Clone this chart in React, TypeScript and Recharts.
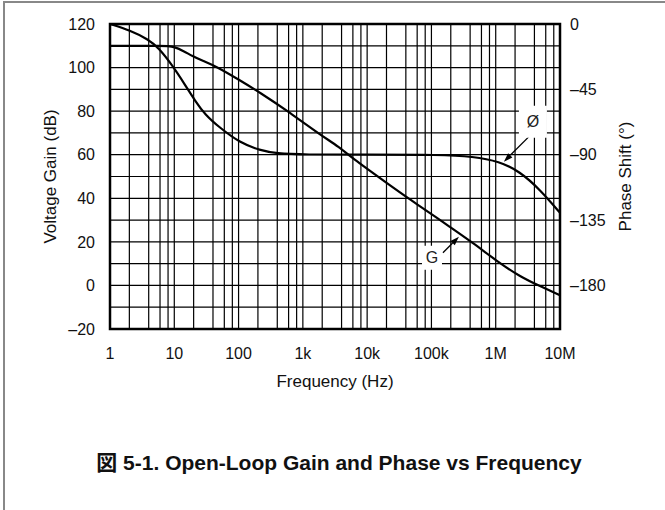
import {
  ComposedChart,
  Line,
  XAxis,
  YAxis,
  ReferenceLine,
  ReferenceArea,
  ReferenceDot,
} from "recharts";

const freqTicks = [1, 10, 100, 1e3, 1e4, 1e5, 1e6, 1e7];
const freqLabels = ["1", "10", "100", "1k", "10k", "100k", "1M", "10M"];
const gainTicks = [-20, 0, 20, 40, 60, 80, 100, 120];
const phaseTicks = [0, -45, -90, -135, -180];

const gridFreqs = [
  2, 4, 6, 8, 10, 20, 40, 60, 80, 100, 200, 400, 600, 800, 1e3, 2e3, 4e3, 6e3,
  8e3, 1e4, 2e4, 4e4, 6e4, 8e4, 1e5, 2e5, 4e5, 6e5, 8e5, 1e6, 2e6, 4e6, 6e6,
  8e6,
];
const gridGain = [-10, 0, 10, 20, 30, 40, 50, 60, 70, 80, 90, 100, 110];

const gainFreq = [
  1, 3, 6, 8, 10, 14, 19, 28, 45, 100, 216, 630, 1840, 3800, 5400, 20200,
  46500, 135000, 182000, 445000, 1140000, 2350000, 4900000, 10000000,
];
const gainDb = [
  110, 110, 110, 109.9, 109.5, 107.6, 105.3, 103, 100.5, 94.5, 88.5, 79.3,
  69.3, 63.2, 59.2, 47, 39.4, 30.2, 27.4, 19.5, 10.3, 4.2, -0.4, -4.5,
];

const phaseFreq = [
  1, 2.05, 3.94, 5.65, 9.1, 14.6, 21, 30, 51, 105, 216, 390, 1000, 10000,
  135000, 445000, 1140000, 2350000, 4900000, 10000000,
];
const phaseDeg = [
  0, -4.4, -10.6, -16.3, -27.8, -41.6, -52.8, -62.3, -71.4, -81.8, -87, -89.2,
  -90, -90, -90, -91.2, -94.6, -101.5, -114, -130,
];

const gainData = gainFreq.map((f, i) => ({ f, v: gainDb[i] }));
const phaseData = phaseFreq.map((f, i) => ({ f, v: phaseDeg[i] }));

const FONT = "'Liberation Sans', Arial, sans-serif";
const dash = (v: number) => String(v).replace("-", "\u2013");

const labelBox = (text: string, w: number, h: number) => (props: any) => {
  const { cx, cy } = props;
  return (
    <g>
      <rect x={cx - w / 2} y={cy - h / 2} width={w} height={h} fill="#fff" />
      <text
        x={cx}
        y={cy}
        textAnchor="middle"
        dominantBaseline="central"
        fontSize={16}
        fontFamily={FONT}
        fill="#222"
      >
        {text}
      </text>
    </g>
  );
};

const arrow = (props: any) => {
  const { x1, y1, x2, y2 } = props;
  const a = Math.atan2(y2 - y1, x2 - x1);
  const len = 9;
  const hw = 3;
  const bx = x2 - len * Math.cos(a);
  const by = y2 - len * Math.sin(a);
  const px = -Math.sin(a) * hw;
  const py = Math.cos(a) * hw;
  return (
    <g>
      <line x1={x1} y1={y1} x2={bx} y2={by} stroke="#000" strokeWidth={1.3} />
      <polygon
        points={`${x2},${y2} ${bx + px},${by + py} ${bx - px},${by - py}`}
        fill="#000"
      />
    </g>
  );
};

export default function App() {
  const tickStyle = { fontSize: 16, fontFamily: FONT, fill: "#111" };
  const titleStyle = { fontSize: 17, fontFamily: FONT, fill: "#111" };
  return (
    <div
      style={{
        position: "fixed",
        left: 0,
        top: 0,
        width: 665,
        height: 510,
        overflow: "hidden",
        background: "#fff",
      }}
    >
      <div
        style={{
          position: "absolute",
          left: 3,
          top: 1,
          width: 900,
          height: 900,
          borderLeft: "2px solid #888",
          borderTop: "2px solid #888",
        }}
      />
      <div style={{ position: "absolute", left: 0, top: 0 }}>
        <ComposedChart
          width={665}
          height={510}
          margin={{ top: 24, right: 0, bottom: 121, left: 0 }}
        >
          <XAxis
            dataKey="f"
            type="number"
            scale="log"
            domain={[1, 1e7]}
            ticks={freqTicks}
            allowDataOverflow
            tickFormatter={(v: number) => freqLabels[freqTicks.indexOf(v)]}
            axisLine={false}
            tickLine={false}
            tickSize={0}
            tickMargin={19}
            height={60}
            tick={tickStyle}
            interval={0}
            label={{
              value: "Frequency (Hz)",
              position: "insideBottom",
              offset: 2,
              style: titleStyle,
            }}
          />
          <YAxis
            yAxisId="gain"
            orientation="left"
            domain={[-20, 120]}
            ticks={gainTicks}
            tickFormatter={dash}
            axisLine={false}
            tickLine={false}
            tickSize={0}
            tickMargin={15}
            width={110}
            tick={tickStyle}
            interval={0}
            label={{
              value: "Voltage Gain (dB)",
              angle: -90,
              position: "insideLeft",
              offset: 50,
              style: { ...titleStyle, textAnchor: "middle" },
            }}
          />
          <YAxis
            yAxisId="phase"
            orientation="right"
            domain={[-210, 0]}
            ticks={phaseTicks}
            tickFormatter={dash}
            axisLine={false}
            tickLine={false}
            tickSize={0}
            tickMargin={10}
            width={105}
            tick={tickStyle}
            interval={0}
            label={{
              value: "Phase Shift (\u00b0)",
              angle: -90,
              position: "insideRight",
              offset: 40,
              style: { ...titleStyle, textAnchor: "middle" },
            }}
          />
          {gridFreqs.map((f) => (
            <ReferenceLine
              key={"vx" + f}
              x={f}
              yAxisId="gain"
              stroke="#000"
              strokeWidth={1.2}
            />
          ))}
          {gridGain.map((g) => (
            <ReferenceLine
              key={"hy" + g}
              y={g}
              yAxisId="gain"
              stroke="#000"
              strokeWidth={1.2}
            />
          ))}
          <ReferenceDot
            x={3.79e6}
            y={-67.3}
            yAxisId="phase"
            r={0}
            shape={labelBox("\u00d8", 28, 32)}
          />
          <ReferenceDot
            x={1.02e5}
            y={12.7}
            yAxisId="gain"
            r={0}
            shape={labelBox("G", 20, 24)}
          />
          <Line
            data={gainData}
            dataKey="v"
            yAxisId="gain"
            type="basis"
            stroke="#000"
            strokeWidth={2.2}
            dot={false}
            isAnimationActive={false}
          />
          <Line
            data={phaseData}
            dataKey="v"
            yAxisId="phase"
            type="basis"
            stroke="#000"
            strokeWidth={2.2}
            dot={false}
            isAnimationActive={false}
          />
          <ReferenceLine
            yAxisId="phase"
            segment={[
              { x: 3.66e6, y: -75.5 },
              { x: 1.34e6, y: -94.8 },
            ]}
            shape={arrow}
          />
          <ReferenceLine
            yAxisId="gain"
            segment={[
              { x: 1.51e5, y: 15 },
              { x: 2.68e5, y: 22.4 },
            ]}
            shape={arrow}
          />
          <ReferenceArea
            x1={1}
            x2={1e7}
            y1={-20}
            y2={120}
            yAxisId="gain"
            fill="none"
            fillOpacity={0}
            stroke="#000"
            strokeWidth={2.5}
          />
        </ComposedChart>
      </div>
      <div
        style={{
          position: "absolute",
          left: 339,
          top: 451,
          transform: "translateX(-50%)",
          whiteSpace: "nowrap",
          fontFamily: FONT + ", 'Noto Sans CJK JP'",
          fontWeight: "bold",
          fontSize: 21,
          lineHeight: "24px",
          color: "#111",
        }}
      >
        図 5-1. Open-Loop Gain and Phase vs Frequency
      </div>
    </div>
  );
}
